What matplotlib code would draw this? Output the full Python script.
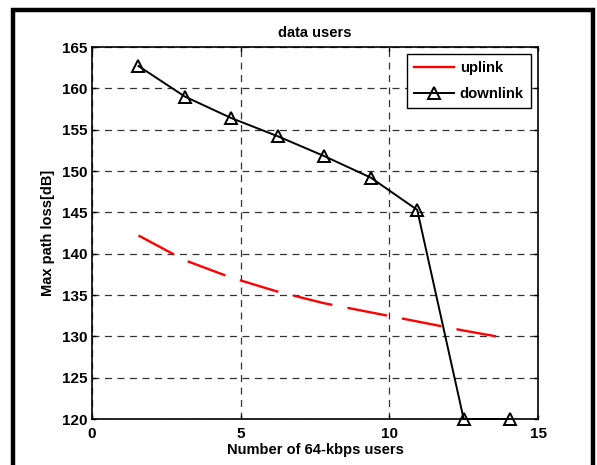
import matplotlib.pyplot as plt
from matplotlib.lines import Line2D
from matplotlib.patches import Rectangle

# numero de usuarios de 64 kbps
usuarios = [1.5625, 3.125, 4.6875, 6.25, 7.8125, 9.375, 10.9375, 12.5, 14.0625]
downlink = [162.7, 159.0, 156.4, 154.2, 151.8, 149.2, 145.3, 120.0, 120.0]
uplink = [142.2, 139.2, 137.1, 135.4, 134.0, 132.9, 131.8, 130.7, 129.7]

plt.rcParams['font.family'] = ['Liberation Sans', 'DejaVu Sans']
plt.rcParams['font.weight'] = 'bold'
plt.rcParams['font.size'] = 10
plt.rcParams['lines.scale_dashes'] = False

fig = plt.figure(figsize=(5.97, 4.65), dpi=100)
ax = fig.add_axes([0.1541, 0.0989, 0.7471, 0.80])

# moldura grossa em volta da figura
fig.patches.append(Rectangle((13 / 597, -0.1), 580 / 597, 1.1 - 10 / 465,
                             transform=fig.transFigure, fill=False,
                             edgecolor='black', linewidth=3.2))

ax.plot(usuarios, uplink, color='red', linewidth=1.7, dashes=(29, 11))
ax.plot(usuarios, downlink, color='black', linewidth=1.4, marker='^',
        markersize=8.5, markerfacecolor='none', markeredgewidth=1.4,
        clip_on=False)

ax.set_xlim(0, 15)
ax.set_ylim(120, 165)
ax.set_xticks([0, 5, 10, 15])
ax.set_yticks(range(120, 166, 5))
ax.grid(True, color='#333333', linestyle=(0, (5, 4)), linewidth=0.9)
ax.tick_params(direction='in', top=True, right=True, length=3, width=1,
               labelsize=11)
ax.tick_params(axis='x', pad=6)
ax.tick_params(axis='y', pad=3)
for s in ax.spines.values():
    s.set_linewidth(1.2)

ax.set_title('data users', fontsize=10.5, fontweight='bold', pad=7)
ax.set_xlabel('Number of 64-kbps users', fontsize=10.5, fontweight='bold',
              labelpad=1)
ax.set_ylabel('Max path loss[dB]', fontsize=10.5, fontweight='bold',
              labelpad=5)

handles = [Line2D([], [], color='red', linewidth=1.7),
           Line2D([], [], color='black', linewidth=1.4, marker='^',
                  markersize=8.5, markerfacecolor='none', markeredgewidth=1.4)]
leg = ax.legend(handles, ['uplink', 'downlink'], loc='upper right',
                fancybox=False, framealpha=1, edgecolor='black',
                handlelength=2.7, fontsize=10.7, labelspacing=0.8,
                handletextpad=0.4, borderaxespad=0.5, borderpad=0.45)
leg.get_frame().set_linewidth(1.0)

fig.savefig('out.png', dpi=100)
